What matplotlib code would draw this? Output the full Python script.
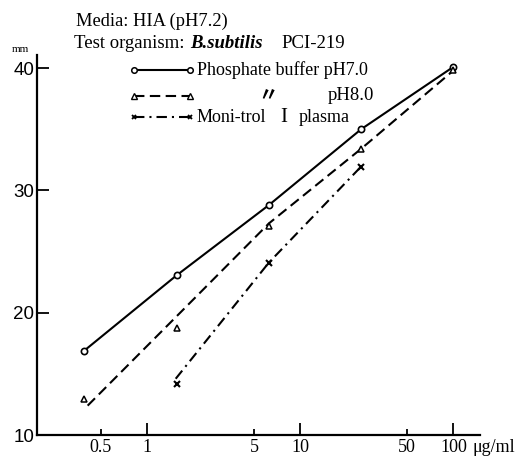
import matplotlib.pyplot as plt
from matplotlib.lines import Line2D

# doses (ug/ml), 4-fold dilutions
dose = [0.39, 1.56, 6.25, 25, 100]

# Phosphate buffer pH7.0 (circles, solid)
ph70 = [16.9, 23.05, 28.8, 35.0, 40.1]

# Phosphate buffer pH8.0 (triangles, dashed line drawn separately)
ph80 = [12.97, 18.75, 27.05, 33.4, 39.8]
ph80_line_x = [0.41, 1.56, 6.25, 25, 100]
ph80_line_y = [12.4, 19.7, 27.3, 33.4, 39.8]

# Moni-trol I plasma (crosses, dash-dot)
mon_x = [1.56, 6.25, 25]
mon_y = [14.15, 24.1, 31.95]
mon_line_x = [1.54, 6.25, 25]
mon_line_y = [14.6, 24.1, 31.95]

xticks = [0.5, 1, 5, 10, 50, 100]
xticklabels = ["0.5", "1", "5", "10", "50", "100"]
yticks = [10, 20, 30, 40]

serif = "Liberation Serif"
dashed = (0, (5, 2.6))
dashdot = (0, (5, 2.4, 1, 2.4))

fig = plt.figure(figsize=(5.17, 4.58), dpi=100)
ax = fig.add_axes([0.0716, 0.0502, 0.8564, 0.8298])

ax.plot(dose, ph70, color="black", lw=1.5, marker="o", ms=4.5,
        mfc="white", mec="black", mew=1.2)
ax.plot(ph80_line_x, ph80_line_y, color="black", lw=1.5, ls=dashed)
ax.plot(dose, ph80, ls="none", marker="^", ms=4.3, mfc="white",
        mec="black", mew=1.1)
ax.plot(mon_line_x, mon_line_y, color="black", lw=1.5, ls=dashdot)
ax.plot(mon_x, mon_y, ls="none", marker="x", ms=4.5, mec="black", mew=1.5)

ax.set_xscale("log")
ax.set_xlim(0.1916, 148.6)
ax.set_ylim(10, 41.07)

for s in ["top", "right"]:
    ax.spines[s].set_visible(False)
for s in ["left", "bottom"]:
    ax.spines[s].set_linewidth(1.6)

ax.set_xticks(xticks)
ax.set_xticklabels(xticklabels, fontfamily=serif, fontsize=13)
ax.xaxis.set_minor_locator(plt.NullLocator())
ax.tick_params(axis="x", direction="in", width=1.3, length=4.3, pad=3)
for t, v in zip(ax.xaxis.get_major_ticks(), xticks):
    if v in (1, 10, 100):
        t.tick1line.set_markersize(8.6)

ax.set_yticks(yticks)
ax.set_yticklabels([str(v) for v in yticks], fontfamily="Liberation Sans",
                   fontsize=13.5)
ax.yaxis.set_minor_locator(plt.NullLocator())
ax.tick_params(axis="y", direction="in", width=1.3, length=8.6, pad=2)

# unit labels
fig.text(473 / 517, 1 - 447 / 458, "μg/ml", fontfamily=serif, fontsize=13,
         ha="left", va="center")
fig.text(20 / 517, 1 - 50 / 458, "mm", fontfamily=serif, fontsize=8,
         ha="center", va="center")

# header
fig.text(76 / 517, 1 - 21 / 458, "Media: HIA (pH7.2)", fontfamily=serif,
         fontsize=13.3, ha="left", va="center")
fig.text(74 / 517, 1 - 43 / 458, "Test organism:", fontfamily=serif,
         fontsize=13.5, ha="left", va="center")
fig.text(190 / 517, 1 - 43 / 458, "B.subtilis", fontfamily=serif,
         fontsize=13.5, style="italic", weight="bold", ha="left", va="center")
fig.text(281 / 517, 1 - 43 / 458, "PCI-219", fontfamily=serif,
         fontsize=13.5, ha="left", va="center")

# hand-drawn legend
def fx(px):
    return px / 517

def fy(py):
    return 1 - py / 458

fig.add_artist(Line2D([fx(134), fx(190)], [fy(70), fy(70)], color="black",
                      lw=1.5, marker="o", ms=4, mfc="white", mec="black",
                      mew=1.1, transform=fig.transFigure))
fig.add_artist(Line2D([fx(134), fx(190)], [fy(96), fy(96)], color="black",
                      lw=1.5, ls=dashed, marker="^", ms=3.8, mfc="white",
                      mec="black", mew=1.0, transform=fig.transFigure))
fig.add_artist(Line2D([fx(134), fx(190)], [fy(117), fy(117)], color="black",
                      lw=1.5, ls=dashdot, marker="x", ms=3.5, mec="black",
                      mew=1.3, transform=fig.transFigure))
fig.text(fx(197), fy(70), "Phosphate buffer pH7.0", fontfamily=serif,
         fontsize=13, ha="left", va="center")
fig.text(fx(268), fy(95), "〃", fontfamily=["Noto Sans CJK JP", "DejaVu Sans"],
         fontsize=14, weight="bold", ha="center", va="center")
fig.text(fx(328), fy(96), "pH8.0", fontfamily=serif, fontsize=13.5,
         ha="left", va="center")
fig.text(fx(197), fy(117), "Moni-trol", fontfamily=serif,
         fontsize=13, ha="left", va="center")
fig.text(fx(284), fy(117), "I", fontfamily=serif,
         fontsize=15, ha="center", va="center")
fig.text(fx(299), fy(117), "plasma", fontfamily=serif,
         fontsize=13, ha="left", va="center")

fig.savefig("out.png", dpi=100)
